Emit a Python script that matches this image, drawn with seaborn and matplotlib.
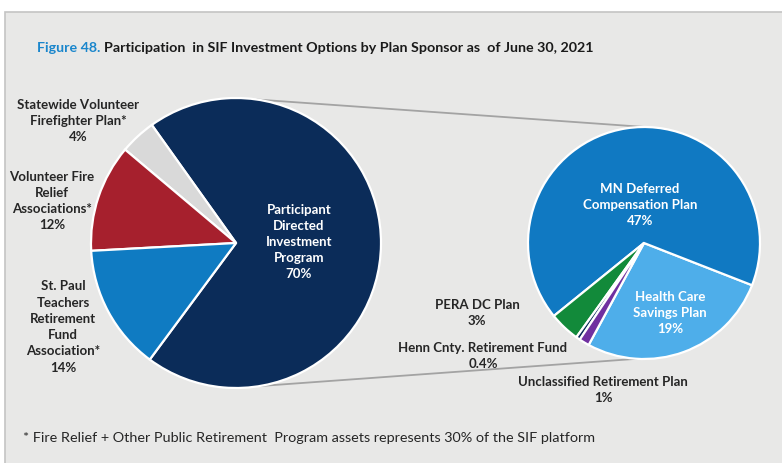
import numpy as np
import matplotlib.pyplot as plt
import seaborn as sns

# Left pie: SIF plan sponsors
sponsor_labels = ['Participant\nDirected\nInvestment\nProgram\n70%',
                  'Statewide Volunteer\nFirefighter Plan*\n4%',
                  'Volunteer Fire\nRelief\nAssociations*\n12%',
                  'St. Paul\nTeachers\nRetirement\nFund\nAssociation*\n14%']
sponsor_values = [70, 4, 12, 14]
sponsor_colors = ['#0b2c59', '#d9d9d9', '#a6202d', '#0f7bc2']

# Right pie: breakdown of Participant Directed Investment Program
plan_labels = ['Health Care\nSavings Plan\n19%',
               'MN Deferred\nCompensation Plan\n47%',
               'PERA DC Plan\n3%',
               'Henn Cnty. Retirement Fund\n0.4%',
               'Unclassified Retirement Plan\n1%']
plan_values = [19, 47, 3, 0.4, 1]
plan_colors = ['#4eaeea', '#1079c2', '#128a3a', '#0b2c59', '#7030a0']

sns.set_theme(style="white")
plt.rcParams['font.family'] = ['Lato', 'DejaVu Sans']

W, H = 782, 463
fig = plt.figure(figsize=(W / 100, H / 100), dpi=100)
fig.patch.set_facecolor('white')
ax = fig.add_axes([0, 0, 1, 1])

# panel background
ax.add_patch(plt.Rectangle((5, -5), W, H - 12 + 5, facecolor='#e8e8e7',
                           edgecolor='#c4c4c4', linewidth=1.2, zorder=0))

c1, r1 = (236, H - 243), 145
c2, r2 = (644, H - 243), 116

# connector lines
for a1, a2 in [(81.7, 89.5), (-80.6, -93.5)]:
    p1 = (c1[0] + r1 * np.cos(np.radians(a1)), c1[1] + r1 * np.sin(np.radians(a1)))
    p2 = (c2[0] + r2 * np.cos(np.radians(a2)), c2[1] + r2 * np.sin(np.radians(a2)))
    ax.plot([p1[0], p2[0]], [p1[1], p2[1]], color='#a3a3a3', lw=1.3, zorder=1)

wp = dict(edgecolor='white', linewidth=1.6)
ax.pie(sponsor_values, colors=sponsor_colors, startangle=-126.5, center=c1,
       radius=r1, wedgeprops=wp, frame=True)
ax.pie(plan_values, colors=plan_colors, startangle=-118.5, center=c2,
       radius=r2, wedgeprops=wp, frame=True)
ax.set_xlim(0, W)
ax.set_ylim(0, H)
ax.set_aspect('equal')
ax.axis('off')

# label positions (image px)
sponsor_pos = [(299, 242, 'white'), (78, 121, '#262626'),
               (52, 201, '#262626'), (63, 327, '#262626')]
plan_pos = [(670, 313, 'white'), (640, 205, 'white'), (477, 313, '#262626'),
            (483, 356, '#262626'), (603, 390, '#262626')]
for lab, (x, y, col) in zip(sponsor_labels + plan_labels, sponsor_pos + plan_pos):
    ax.text(x, H - y, lab, ha='center', va='center', fontsize=9.5,
            fontweight='bold', color=col, linespacing=1.42, zorder=5)

# title
t1 = ax.text(37, H - 48, 'Figure 48.', fontsize=10.3, fontweight='bold',
             color='#1a86cc', va='center')
fig.canvas.draw()
bb = t1.get_window_extent()
ax.text(bb.x1 + 4, H - 48, 'Participation  in SIF Investment Options by Plan Sponsor as  of June 30, 2021',
        fontsize=10.3, fontweight='bold', color='#1a1a1a', va='center')

ax.text(23, H - 438, '* Fire Relief + Other Public Retirement  Program assets represents 30% of the SIF platform',
        fontsize=10.35, color='#262626', va='center')

plt.savefig('out.png', dpi=100, facecolor='white')
